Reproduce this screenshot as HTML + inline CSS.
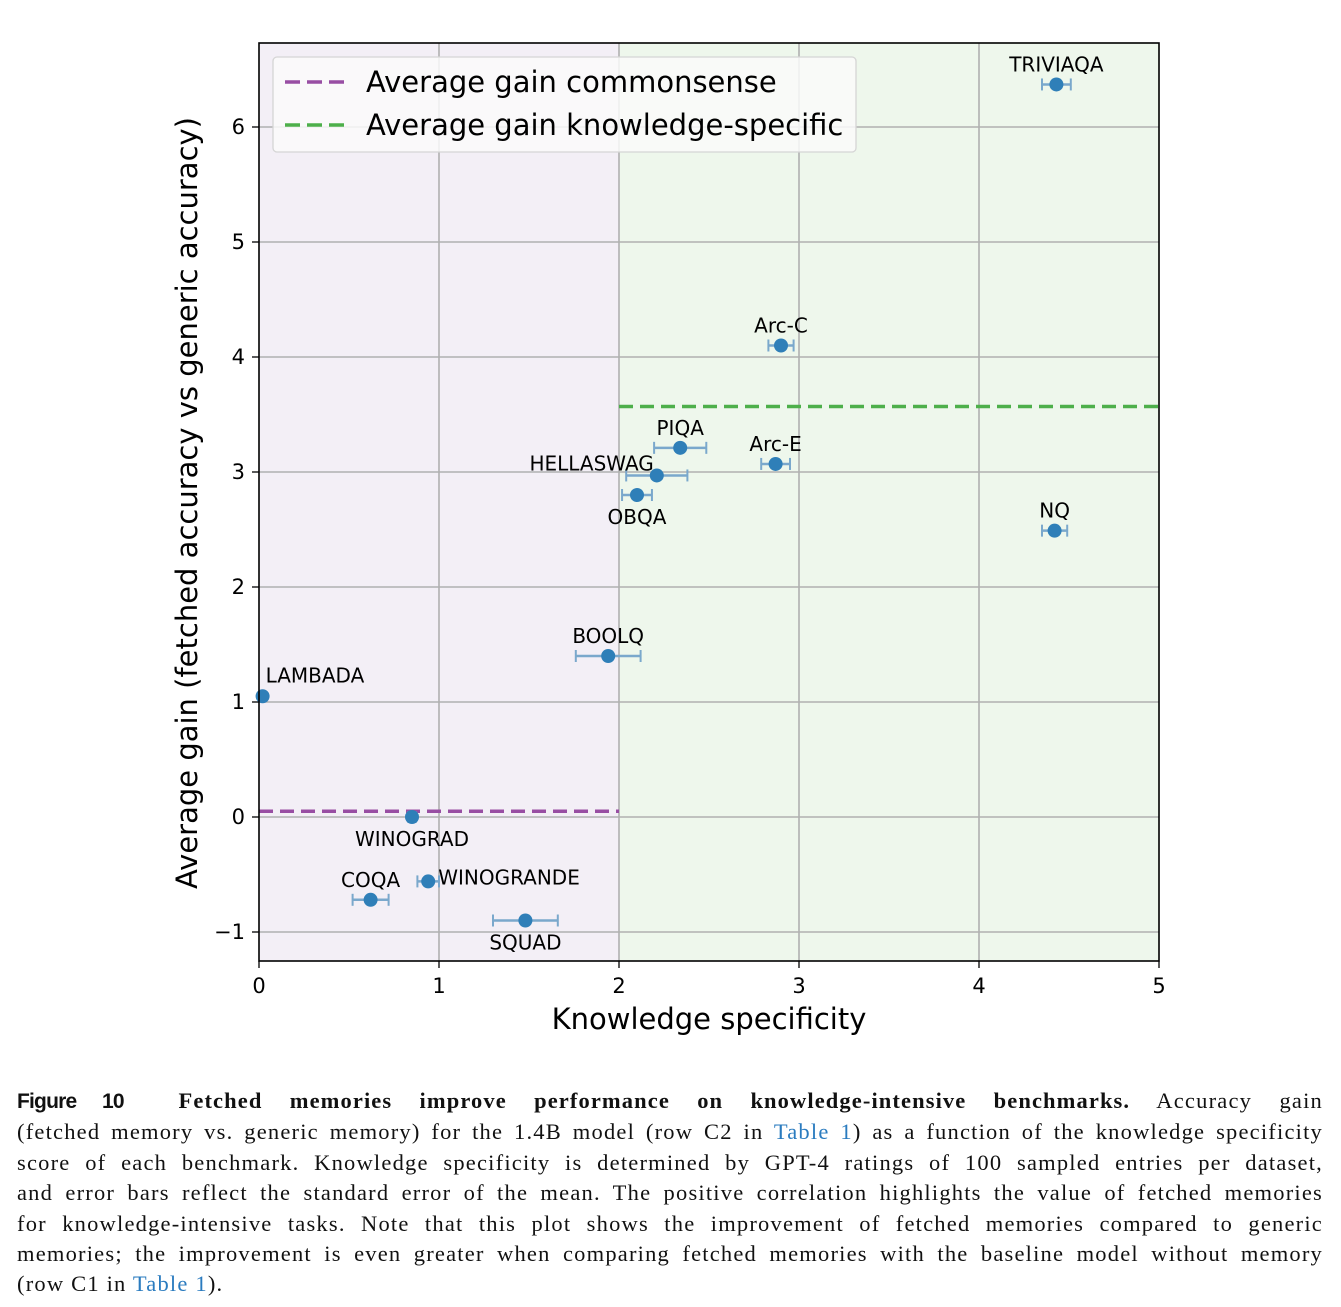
<!DOCTYPE html>
<html><head><meta charset="utf-8"><style>
body{margin:0;background:#fff;width:1341px;height:1307px;overflow:hidden;position:relative}
svg text{font-family:"DejaVu Sans","Liberation Sans",sans-serif}
#cap{position:absolute;left:17px;top:1086px;width:1306px;font-family:"Liberation Serif",serif;font-size:22.5px;letter-spacing:1.2px;line-height:30.4px;color:#111}
#cap div{text-align:justify;text-align-last:justify;white-space:nowrap}
#cap div.last{text-align-last:left}
#cap .fig{font-family:"Liberation Sans",sans-serif;font-weight:bold;letter-spacing:-0.8px;font-size:21px}
#cap b{letter-spacing:1.1px}
#cap a{color:#2a7bbf;text-decoration:none}
</style></head><body>
<svg id="chart" width="1341" height="1070" style="position:absolute;left:0;top:0"></svg>
<div id="cap">
<div><span class="fig">Figure 10</span>&nbsp; <b>Fetched memories improve performance on knowledge-intensive benchmarks.</b> Accuracy gain</div>
<div>(fetched memory vs. generic memory) for the 1.4B model (row C2 in <a>Table 1</a>) as a function of the knowledge specificity</div>
<div>score of each benchmark. Knowledge specificity is determined by GPT-4 ratings of 100 sampled entries per dataset,</div>
<div>and error bars reflect the standard error of the mean. The positive correlation highlights the value of fetched memories</div>
<div>for knowledge-intensive tasks. Note that this plot shows the improvement of fetched memories compared to generic</div>
<div>memories; the improvement is even greater when comparing fetched memories with the baseline model without memory</div>
<div class="last">(row C1 in <a>Table 1</a>).</div>
</div>
<script>
const names=["TRIVIAQA","Arc-C","PIQA","Arc-E","HELLASWAG","OBQA","NQ","BOOLQ","LAMBADA","WINOGRAD","COQA","WINOGRANDE","SQUAD"];
const xs=[4.43,2.90,2.34,2.87,2.21,2.10,4.42,1.94,0.02,0.85,0.62,0.94,1.48];
const ys=[6.37,4.10,3.21,3.07,2.97,2.80,2.49,1.40,1.05,0.00,-0.72,-0.56,-0.90];
const xerr=[0.08,0.07,0.145,0.08,0.17,0.083,0.07,0.18,0.0,0.02,0.10,0.06,0.18];
const labelPos=["t","t","t","t","l","b","t","t","tr","b","t","r","b"];
const avgCommon=0.05, avgKnow=3.57;
const xTicks=[0,1,2,3,4,5], yTicks=[-1,0,1,2,3,4,5,6];
const L=259,R=1159,T=43,B=961;
const X=v=>L+(v-0)*(R-L)/5;
const Y=v=>817-v*115;
const svg=document.getElementById('chart');
const NS='http://www.w3.org/2000/svg';
function mk(t,a,p){const e=document.createElementNS(NS,t);for(const k in a)e.setAttribute(k,a[k]);(p||svg).appendChild(e);return e;}
let e;
e=mk('rect',{x:X(0),y:T,width:X(2)-X(0),height:B-T,fill:'#f3eff6'});


e=mk('rect',{x:X(2),y:T,width:X(5)-X(2),height:B-T,fill:'#eef7ec'});


xTicks.forEach(t=>{
 if(t>0&&t<5){e=mk('line',{x1:X(t),x2:X(t),y1:T,y2:B,stroke:'#b0b0b0','stroke-width':1.6});}
 mk('line',{x1:X(t),x2:X(t),y1:B,y2:B+7,stroke:'#000','stroke-width':1.3});
 e=mk('text',{x:X(t),y:B+32,'text-anchor':'middle','font-size':21});e.textContent=t;
 
});
yTicks.forEach(t=>{
 e=mk('line',{x1:L,x2:R,y1:Y(t),y2:Y(t),stroke:'#b0b0b0','stroke-width':1.6});
 mk('line',{x1:L-7,x2:L,y1:Y(t),y2:Y(t),stroke:'#000','stroke-width':1.3});
 e=mk('text',{x:L-14,y:Y(t)+7,'text-anchor':'end','font-size':21});e.textContent=(t<0?'\u2212'+(-t):t);
 
});
e=mk('line',{x1:X(0),x2:X(2),y1:Y(avgCommon),y2:Y(avgCommon),stroke:'#984ea3','stroke-width':3.5,'stroke-dasharray':'14,7'});

e=mk('line',{x1:X(2),x2:X(5),y1:Y(avgKnow),y2:Y(avgKnow),stroke:'#4daf4a','stroke-width':3.5,'stroke-dasharray':'14,7'});

names.forEach((n,i)=>{
 const cx=X(xs[i]),cy=Y(ys[i]),w=xerr[i]*(R-L)/5;
 const g=mk('g',{});
 
 
 if(w>0){
  mk('line',{x1:cx-w,x2:cx+w,y1:cy,y2:cy,stroke:'#7aa8cc','stroke-width':2.5},g);
  mk('line',{x1:cx-w,x2:cx-w,y1:cy-6,y2:cy+6,stroke:'#7aa8cc','stroke-width':2},g);
  mk('line',{x1:cx+w,x2:cx+w,y1:cy-6,y2:cy+6,stroke:'#7aa8cc','stroke-width':2},g);
 }
 mk('circle',{cx:cx,cy:cy,r:7,fill:'#2f7fb8'},g);
 let tx=cx,ty=cy-13,anc='middle';const p=labelPos[i];
 if(p=='b'){ty=cy+29;}
 if(p=='l'){tx=cx-3;ty=cy-5;anc='end';}
 if(p=='r'){tx=cx+10;ty=cy+3;anc='start';}
 if(p=='tr'){tx=cx+3;ty=cy-14;anc='start';}
 const t=mk('text',{x:tx,y:ty,'text-anchor':anc,'font-size':20},g);t.textContent=n;
});
e=mk('rect',{x:L,y:T,width:R-L,height:B-T,fill:'none',stroke:'#000','stroke-width':1.6});

const lg=mk('g',{});


mk('rect',{x:273,y:57,width:583,height:95,rx:4,fill:'#fafafa','fill-opacity':0.85,stroke:'#d5d5d5','stroke-width':1.3},lg);
mk('line',{x1:285,x2:345,y1:82,y2:82,stroke:'#984ea3','stroke-width':3.5,'stroke-dasharray':'15,7'},lg);
mk('line',{x1:285,x2:345,y1:125,y2:125,stroke:'#4daf4a','stroke-width':3.5,'stroke-dasharray':'15,7'},lg);
e=mk('text',{x:366,y:92,'font-size':29},lg);e.textContent='Average gain commonsense';
e=mk('text',{x:366,y:135,'font-size':29},lg);e.textContent='Average gain knowledge-specific';
e=mk('text',{x:709,y:1029,'text-anchor':'middle','font-size':29});e.textContent='Knowledge specificity';

e=mk('text',{x:0,y:0,'text-anchor':'middle','font-size':29,transform:'translate(197,503) rotate(-90)'});e.textContent='Average gain (fetched accuracy vs generic accuracy)';

</script>
</body></html>
